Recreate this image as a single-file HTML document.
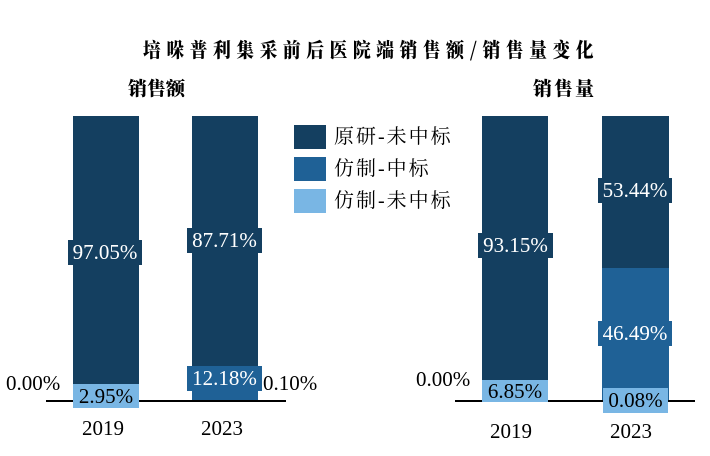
<!DOCTYPE html>
<html><head><meta charset="utf-8"><style>
body{margin:0;width:710px;height:456px;background:#fff;position:relative;overflow:hidden;font-family:"Liberation Serif","Noto Serif CJK SC",serif;}
div{position:absolute;}
.t{font-family:"Noto Serif CJK SC","WenQuanYi Zen Hei",serif;font-weight:900;color:#000;white-space:nowrap;}
.d{background:#143f60}.m{background:#1f6196}.l{background:#79b6e4}
.lb{font-size:21px;line-height:25px;text-align:center;white-space:nowrap;}
.w{color:#fff}.k{color:#000}
.ax{height:1.5px;background:#000}
.yr{font-size:21px;color:#000;}
.lg{font-family:"Liberation Serif","Noto Serif CJK SC",serif;font-size:20px;letter-spacing:2px;white-space:nowrap;line-height:24px}
</style></head><body>
<div class="t" style="left:143px;top:36px;font-size:20px;letter-spacing:6.2px;line-height:26px;transform-origin:0 0;transform:scaleX(0.89)">培哚普利集采前后医院端销售额/销售量变化</div>
<div class="t" style="left:128px;top:75px;font-size:19px;line-height:26px">销售额</div>
<div class="t" style="left:533px;top:75px;font-size:19px;letter-spacing:2px;line-height:26px">销售量</div>

<!-- left -->
<div class="d" style="left:73px;top:116px;width:66px;height:268px"></div>
<div class="l" style="left:73px;top:384px;width:66px;height:16px"></div>
<div class="d" style="left:192px;top:116px;width:66px;height:250px"></div>
<div class="m" style="left:192px;top:366px;width:66px;height:34px"></div>
<div class="ax" style="left:46px;top:400px;width:240px"></div>
<div class="lb d w" style="left:68px;top:240px;width:74px">97.05%</div>
<div class="lb d w" style="left:187px;top:228px;width:75px">87.71%</div>
<div class="lb m w" style="left:187px;top:366px;width:75px">12.18%</div>
<div class="lb l k" style="left:73px;top:384px;width:66px;height:24px">2.95%</div>
<div class="lb k" style="left:6px;top:371px">0.00%</div>
<div class="lb k" style="left:263px;top:371px">0.10%</div>
<div class="yr" style="left:82px;top:416px">2019</div>
<div class="yr" style="left:201px;top:416px">2023</div>

<!-- legend -->
<div class="d" style="left:294px;top:125px;width:32px;height:24px"></div>
<div class="m" style="left:294px;top:157px;width:32px;height:24px"></div>
<div class="l" style="left:294px;top:189px;width:32px;height:24px"></div>
<div class="lg" style="left:334px;top:125px">原研-未中标</div>
<div class="lg" style="left:334px;top:157px">仿制-中标</div>
<div class="lg" style="left:334px;top:189px">仿制-未中标</div>

<!-- right -->
<div class="d" style="left:482px;top:116px;width:66px;height:264px"></div>
<div class="l" style="left:482px;top:380px;width:66px;height:20px"></div>
<div class="d" style="left:602px;top:116px;width:67px;height:152px"></div>
<div class="m" style="left:602px;top:268px;width:67px;height:132px"></div>
<div class="ax" style="left:455px;top:400px;width:240px"></div>
<div class="lb d w" style="left:478px;top:233px;width:75px">93.15%</div>
<div class="lb d w" style="left:598px;top:178px;width:74px">53.44%</div>
<div class="lb m w" style="left:598px;top:321px;width:74px">46.49%</div>
<div class="lb l k" style="left:482px;top:380px;width:66px;height:22px;line-height:22px">6.85%</div>
<div class="lb l k" style="left:603px;top:388px;width:65px;height:25px">0.08%</div>
<div class="lb k" style="left:416px;top:367px">0.00%</div>
<div class="yr" style="left:490px;top:419px">2019</div>
<div class="yr" style="left:610px;top:419px">2023</div>
</body></html>
